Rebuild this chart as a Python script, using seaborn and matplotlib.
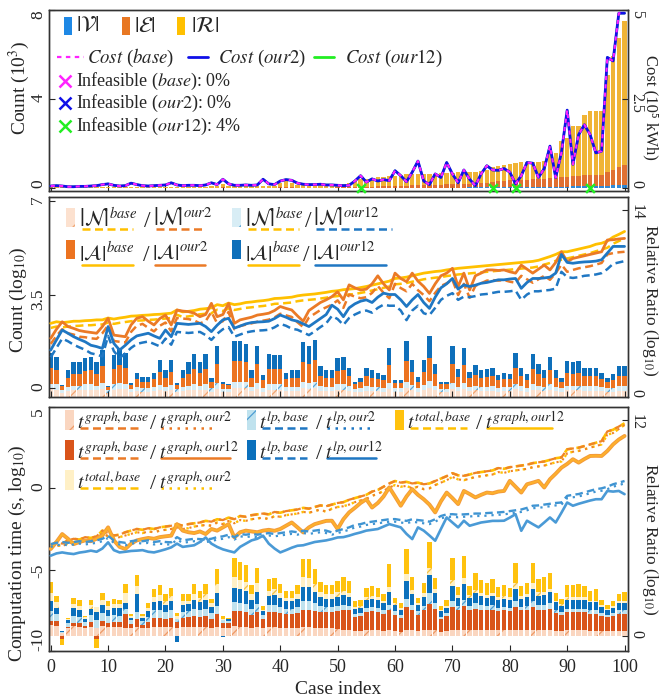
import numpy as np
import matplotlib
matplotlib.use("Agg")
import matplotlib.pyplot as plt
import seaborn as sns
from matplotlib.patches import Rectangle
from matplotlib.lines import Line2D

# ============================================
# Data
# ============================================
case_index = np.arange(101)

# --- panel 1: graph sizes (10^3) and cost (10^5 kWh)
count_V = [.002, .002, .001, .001, .002, .002, .002, .002, .001, .002,
           .002, .002, .002, .003, .002, .002, .003, .002, .003, .003,
           .003, .003, .003, .003, .003, .003, .004, .003, .004, .004,
           .008, .004, .004, .004, .005, .004, .005, .005, .005, .005,
           .01, .012, .01, .006, .006, .006, .006, .006, .007, .007,
           .008, .009, .01, .012, .015, .015, .016, .018, .018, .019,
           .02, .021, .022, .022, .022, .023, .023, .024, .025, .026,
           .026, .027, .027, .028, .028, .03, .032, .035, .037, .04,
           .042, .044, .045, .045, .046, .047, .048, .055, .056, .065,
           .07, .08, .08, .09, .095, .095, .095, .11, .12, .13, .14]
count_E = [.005, .005, .004, .004, .005, .005, .006, .005, .004, .006,
           .006, .005, .006, .007, .006, .006, .007, .006, .007, .007,
           .007, .008, .007, .008, .008, .008, .009, .008, .009, .01,
           .02, .01, .01, .01, .011, .01, .011, .012, .012, .012,
           .025, .03, .025, .014, .014, .015, .015, .016, .017, .018,
           .02, .022, .026, .033, .045, .045, .046, .06, .06, .065,
           .07, .08, .09, .1, .1, .11, .11, .12, .13, .14,
           .14, .15, .15, .16, .16, .18, .2, .25, .27, .29,
           .3, .32, .33, .34, .35, .36, .37, .4, .41, .42,
           .43, .45, .46, .48, .5, .5, .5, .62, .7, .8, .88]
count_R = [.033, .033, .025, .025, .033, .033, .042, .033, .025, .042,
           .042, .033, .042, .05, .042, .042, .05, .042, .05, .05,
           .05, .059, .05, .059, .059, .059, .067, .059, .067, .076,
           .17, .076, .076, .076, .084, .076, .084, .093, .093, .093,
           .21, .26, .21, .11, .11, .12, .12, .13, .14, .15,
           .15, .17, .2, .26, .35, .35, .36, .44, .44, .45,
           .46, .5, .52, .51, .51, .51, .51, .51, .53, .53,
           .53, .53, .53, .53, .53, .54, .57, .65, .67, .7,
           .74, .76, .78, .77, .76, .76, .78, 1.14, 1.13, 1.63,
           1.76, 2.24, 2.26, 2.72, 2.85, 2.86, 2.86, 4.33, 5.12, 5.83, 6.47]
# the three cost curves coincide in the picture
cost_base = [.06, .07, .06, .04, .04, .05, .05, .06, .07, .1,
             .12, .08, .06, .07, .14, .1, .07, .06, .07, .08,
             .09, .15, .09, .07, .08, .08, .07, .09, .15, .1,
             .25, .12, .08, .08, .09, .08, .09, .25, .12, .1,
             .2, .24, .22, .14, .11, .1, .1, .11, .09, .09,
             .08, .07, .08, .2, .35, .17, .26, .2, .24, .21,
             .49, .35, .18, .45, .76, .2, .1, .4, .3, .72,
             .4, .15, .51, .25, .07, .4, .63, .51, .5, .55,
             .45, .12, .35, .72, .7, .3, .55, 1.18, .3, 1.0,
             2.19, .67, 1.5, 1.78, 1.5, .99, 1.04, 3.67, 3.57, 4.91, 4.91]
cost_our2 = cost_base
cost_our12 = cost_base
infeasible_our12 = [54, 77, 81, 94]

# --- panel 2: node / arc counts (log10) and ratios
N_base = [2.25, 2.3, 2.27, 2.3, 2.32, 2.33, 2.35, 2.35, 2.37, 2.38,
          2.45, 2.4, 2.44, 2.47, 2.5, 2.52, 2.53, 2.55, 2.56, 2.58,
          2.6, 2.62, 2.74, 2.66, 2.68, 2.72, 2.76, 2.78, 2.8, 2.93,
          2.88, 2.98, 2.92, 2.96, 3.0, 3.02, 3.05, 3.07, 3.1, 3.15,
          3.16, 3.18, 3.2, 3.25, 3.28, 3.3, 3.32, 3.35, 3.38, 3.42,
          3.44, 3.48, 3.5, 3.52, 3.56, 3.6, 3.65, 3.7, 3.75, 3.8,
          3.88, 3.9, 3.93, 3.98, 4.02, 4.07, 4.1, 4.13, 4.15, 4.19,
          4.22, 4.25, 4.27, 4.29, 4.31, 4.33, 4.35, 4.37, 4.39, 4.41,
          4.43, 4.45, 4.47, 4.49, 4.51, 4.55, 4.62, 4.68, 4.76, 4.8,
          4.85, 4.9, 4.95, 5.0, 5.05, 5.12, 5.18, 5.25, 5.4, 5.5, 5.6]
A_base = [2.42, 2.48, 2.45, 2.47, 2.5, 2.5, 2.52, 2.53, 2.55, 2.55,
          2.62, 2.58, 2.62, 2.65, 2.69, 2.7, 2.72, 2.73, 2.75, 2.76,
          2.78, 2.8, 2.92, 2.85, 2.87, 2.9, 2.95, 2.97, 3.0, 3.12,
          3.08, 3.18, 3.12, 3.15, 3.2, 3.22, 3.25, 3.27, 3.3, 3.35,
          3.36, 3.38, 3.4, 3.45, 3.48, 3.5, 3.52, 3.55, 3.58, 3.62,
          3.64, 3.68, 3.7, 3.72, 3.76, 3.8, 3.85, 3.9, 3.95, 4.0,
          4.1, 4.12, 4.15, 4.2, 4.25, 4.3, 4.33, 4.36, 4.38, 4.42,
          4.45, 4.48, 4.5, 4.52, 4.54, 4.56, 4.58, 4.6, 4.62, 4.64,
          4.66, 4.68, 4.7, 4.72, 4.74, 4.78, 4.85, 4.92, 5.0, 5.1,
          5.1, 5.15, 5.2, 5.25, 5.3, 5.38, 5.42, 5.5, 5.65, 5.75, 5.86]
N_our2 = [1.65, 1.95, 2.2, 2.05, 2.0, 1.92, 1.9, 1.86, 1.84, 2.05,
          2.35, 1.76, 1.73, 1.7, 2.1, 2.33, 2.4, 2.25, 2.12, 2.33,
          2.45, 2.12, 2.62, 2.6, 2.58, 2.53, 2.42, 2.5, 2.85, 2.42,
          2.5, 2.85, 2.2, 2.32, 2.37, 2.42, 2.48, 2.52, 2.56, 2.64,
          2.78, 2.72, 2.66, 2.46, 2.28, 2.64, 2.78, 2.92, 3.02, 3.12,
          3.28, 3.0, 3.5, 3.42, 3.36, 3.4, 3.56, 3.82, 3.56, 3.36,
          3.9, 3.74, 3.62, 3.9, 3.66, 3.48, 3.25, 3.56, 3.82, 3.92,
          4.05, 3.48, 3.9, 3.38, 3.82, 3.92, 4.02, 4.04, 4.02, 4.04,
          3.98, 3.94, 4.2, 4.07, 3.94, 4.07, 4.2, 4.05, 4.3, 4.62,
          4.35, 4.42, 4.48, 4.52, 4.56, 4.62, 4.68, 5.0, 5.05, 5.08, 5.1]
A_our2 = [1.86, 2.2, 2.48, 2.3, 2.23, 2.15, 2.11, 2.08, 2.05, 2.3,
          2.61, 1.98, 1.95, 1.92, 2.36, 2.61, 2.67, 2.5, 2.36, 2.6,
          2.73, 2.36, 2.92, 2.88, 2.86, 2.8, 2.67, 2.75, 3.17, 2.67,
          2.75, 3.17, 2.42, 2.55, 2.6, 2.65, 2.73, 2.76, 2.8, 2.9,
          3.05, 2.98, 2.92, 2.7, 2.5, 2.9, 3.05, 3.2, 3.3, 3.42,
          3.6, 3.3, 3.86, 3.75, 3.67, 3.7, 3.9, 4.2, 3.9, 3.67,
          4.3, 4.1, 3.98, 4.3, 4.0, 3.8, 3.54, 3.9, 4.2, 4.3,
          4.48, 3.8, 4.3, 3.67, 4.2, 4.3, 4.42, 4.42, 4.4, 4.42,
          4.35, 4.3, 4.6, 4.45, 4.3, 4.45, 4.6, 4.42, 4.7, 5.1,
          4.73, 4.85, 4.9, 4.95, 5.0, 5.05, 5.1, 5.54, 5.55, 5.58, 5.6]
N_our12 = [1.15, 1.5, 1.85, 1.75, 1.62, 1.52, 1.43, 1.3, 1.25, 1.18,
           1.95, 1.38, 1.12, 1.3, 1.5, 1.65, 1.7, 1.74, 1.65, 1.56,
           1.85, 1.62, 2.1, 2.08, 2.06, 2.08, 2.1, 1.98, 1.8, 2.03,
           2.2, 2.28, 1.92, 2.0, 2.08, 2.12, 2.15, 2.16, 2.18, 2.27,
           2.4, 2.33, 2.22, 2.18, 2.08, 1.98, 2.12, 2.28, 2.42, 2.7,
           2.58, 2.36, 2.62, 2.75, 2.85, 2.9, 2.82, 3.0, 3.12, 3.08,
           3.08, 2.9, 2.54, 2.9, 3.08, 2.8, 2.73, 3.0, 3.3, 3.45,
           3.55, 3.3, 3.42, 3.4, 3.44, 3.5, 3.52, 3.56, 3.6, 3.6,
           3.62, 3.65, 3.3, 3.5, 3.62, 3.62, 3.65, 3.67, 3.72, 4.35,
           4.15, 4.12, 4.15, 4.2, 4.22, 4.25, 4.3, 4.45, 4.65, 4.7, 4.75]
A_our12 = [1.42, 1.8, 2.17, 2.05, 1.92, 1.82, 1.73, 1.6, 1.55, 1.48,
           2.3, 1.67, 1.42, 1.6, 1.8, 1.95, 2.0, 2.05, 1.95, 1.86,
           2.17, 1.92, 2.42, 2.4, 2.38, 2.4, 2.42, 2.3, 2.11, 2.35,
           2.55, 2.61, 2.24, 2.32, 2.4, 2.45, 2.47, 2.48, 2.5, 2.6,
           2.73, 2.65, 2.55, 2.5, 2.4, 2.3, 2.45, 2.6, 2.75, 3.1,
           2.95, 2.67, 3.0, 3.15, 3.25, 3.3, 3.2, 3.4, 3.55, 3.5,
           3.5, 3.3, 3.05, 3.3, 3.5, 3.2, 2.98, 3.4, 3.75, 3.9,
           4.1, 3.7, 3.86, 3.8, 3.85, 3.92, 3.95, 4.0, 4.05, 4.05,
           4.08, 4.1, 3.73, 3.95, 4.1, 4.1, 4.12, 4.15, 4.3, 5.0,
           4.7, 4.67, 4.7, 4.72, 4.73, 4.75, 4.8, 5.05, 5.3, 5.3, 5.3]

ratio_N2 = [.6, .55, .3, .45, .5, .5, .55, .55, .5, .6,
            .3, .55, .6, .6, .35, .45, .4, .4, .45, .5,
            .45, .5, .35, .45, .5, .55, .5, .55, .4, .6,
            .35, .35, .65, .65, .65, .45, .6, .4, .55, .55,
            .55, .45, .45, .45, .65, .6, .65, .45, .45, .45,
            .55, .55, .45, .35, .4, .45, .45, .45, .4, .6,
            .4, .4, .65, .5, .4, .5, .7, .5, .35, .35,
            .6, .45, .6, .45, .5, .45, .45, .45, .4, .45,
            .45, .6, .45, .4, .55, .5, .45, .55, .45, .4,
            .5, .5, .5, .45, .45, .45, .45, .4, .4, .45, .45]
ratio_N12 = [.4, .4, .2, .3, .35, .35, .4, .4, .35, .45,
             .2, .4, .45, .4, .25, .3, .3, .3, .3, .4,
             .3, .4, .25, .3, .35, .4, .35, .4, .25, .45,
             .25, .25, .5, .5, .45, .3, .45, .3, .4, .4,
             .4, .3, .3, .3, .5, .45, .5, .35, .3, .3,
             .4, .4, .35, .25, .25, .35, .3, .3, .3, .45,
             .25, .25, .5, .4, .3, .4, .5, .35, .25, .25,
             .45, .3, .45, .3, .35, .3, .3, .35, .3, .3,
             .3, .4, .35, .3, .4, .35, .3, .4, .3, .25,
             .35, .35, .35, .35, .35, .35, .3, .25, .3, .35, .35]
ratio_A2 = [1.2, 1.05, .3, .7, .9, .9, 1.0, 1.05, .9, 1.25,
            .25, 1.15, 1.35, 1.2, .3, .6, .45, .45, .6, 1.0,
            .7, 1.0, .3, .7, .9, 1.15, .95, 1.15, .45, 1.4,
            .35, .3, 1.55, 1.55, 1.5, .7, 1.4, .55, 1.15, 1.15,
            1.15, .6, .7, .7, 1.5, 1.4, 1.6, .8, .7, .7,
            1.0, 1.05, .75, .35, .45, .75, .7, .6, .55, 1.35,
            .4, .4, 1.55, 1.0, .45, 1.0, 1.7, .85, .35, .35,
            1.4, .75, 1.35, .65, .8, .7, .75, .75, .55, .6,
            .6, 1.2, .75, .6, 1.15, .85, .7, 1.05, .7, .45,
            .95, .9, .95, .75, .75, .75, .6, .45, .6, .8, .8]
ratio_A12 = [1.1, 1.0, .1, .55, .85, .85, .95, 1.0, .85, 1.2,
             .1, 1.05, 1.25, 1.1, .15, .45, .35, .35, .45, .9,
             .55, .9, .15, .55, .85, 1.1, .85, 1.1, .3, 1.35,
             .2, .1, 1.5, 1.5, 1.4, .55, 1.35, .4, 1.1, 1.05,
             1.05, .45, .55, .55, 1.45, 1.35, 1.55, .7, .55, .55,
             .95, 1.0, .65, .15, .3, .6, .55, .45, .4, 1.25,
             .25, .25, 1.5, .9, .35, .9, 1.7, .8, .2, .2,
             1.4, .6, 1.3, .5, .75, .55, .6, .6, .4, .45,
             .4, 1.1, .6, .4, 1.1, .8, .55, 1.0, .55, .3,
             .9, .85, .9, .65, .6, .6, .45, .3, .4, .7, .7]

# --- panel 3: computation times (s, log10) and ratios
t_graph_base = [-3.5, -3.3, -3.4, -3.2, -3.1, -3.15, -3.0, -3.05, -2.95, -2.6,
                -2.75, -2.9, -2.85, -2.7, -2.6, -2.5, -2.55, -2.45, -2.5, -2.4,
                -2.35, -2.3, -2.2, -2.3, -2.2, -2.15, -2.1, -2.0, -2.05, -1.9,
                -1.95, -1.8, -1.9, -1.7, -1.75, -1.65, -1.6, -1.55, -1.6, -1.45,
                -1.5, -1.4, -1.35, -1.3, -1.2, -1.25, -1.15, -1.05, -1.1, -1.0,
                -0.9, -0.85, -0.7, -0.6, -0.5, -0.4, -0.2, -0.1, 0.1, 0.3,
                0.45, 0.35, 0.4, 0.3, 0.35, 0.25, 0.3, 0.45, 0.6, 0.75,
                0.93, 0.8, 0.77, 0.85, 0.95, 1.0, 1.05, 1.1, 1.25, 1.2,
                1.3, 1.35, 1.4, 1.45, 1.55, 1.6, 1.65, 1.75, 1.85, 1.9,
                2.4, 2.45, 2.5, 2.6, 2.7, 2.8, 2.9, 3.5, 3.6, 3.8, 4.0]
t_graph_our2 = [-3.6, -3.5, -3.55, -3.4, -3.3, -3.35, -3.2, -3.25, -3.1, -2.75,
                -2.95, -3.1, -3.0, -2.9, -2.8, -2.7, -2.75, -2.65, -2.7, -2.6,
                -2.55, -2.5, -2.4, -2.5, -2.45, -2.35, -2.3, -2.25, -2.3, -2.1,
                -2.2, -2.0, -2.15, -1.95, -2.0, -1.9, -1.85, -1.8, -1.9, -1.7,
                -1.75, -1.65, -1.6, -1.55, -1.45, -1.5, -1.4, -1.3, -1.45, -1.25,
                -1.15, -1.1, -1.0, -0.85, -0.75, -0.65, -0.45, -0.35, -0.15, 0.05,
                0.2, 0.1, 0.15, 0.0, 0.1, -0.05, 0.0, 0.2, 0.35, 0.5,
                0.7, 0.55, 0.5, 0.6, 0.7, 0.75, 0.8, 0.85, 1.0, 0.95,
                1.05, 1.1, 1.15, 1.2, 1.3, 1.35, 1.4, 1.5, 1.6, 1.65,
                2.15, 2.25, 2.3, 2.4, 2.5, 2.6, 2.7, 3.3, 3.4, 3.65, 3.9]
t_graph_our12 = [-3.73, -3.3, -2.81, -3.1, -3.43, -3.3, -3.2, -3.25, -3.1, -2.9,
                 -2.4, -3.2, -3.6, -3.73, -3.4, -3.2, -3.12, -3.05, -3.1, -3.0,
                 -2.95, -2.91, -2.2, -2.6, -2.7, -2.75, -2.65, -2.81, -2.5, -2.6,
                 -2.4, -2.2, -3.02, -2.7, -2.6, -2.65, -2.7, -2.6, -2.55, -2.61,
                 -2.5, -2.3, -2.1, -2.4, -2.71, -2.4, -2.2, -2.1, -2.0, -1.99,
                 -2.5, -1.9, -1.48, -1.2, -0.9, -0.67, -1.18, -0.9, -0.5, 0.06,
                 -0.5, -1.07, -0.5, -0.05, -0.4, -0.67, -1.0, -1.48, -0.8, -0.26,
                 -0.6, -0.97, -0.16, -0.35, -0.56, -0.4, -0.26, -0.3, -0.2, -0.16,
                 0.46, 0.1, -0.26, 0.25, 0.35, 0.46, 0.05, 0.56, 0.9, 1.27,
                 1.5, 1.79, 1.58, 1.8, 1.99, 2.0, 1.99, 2.3, 2.7, 3.0, 3.22]
t_lp_base = [-3.43, -3.35, -3.3, -3.35, -3.3, -3.25, -3.3, -3.25, -3.2, -3.1,
             -2.92, -3.2, -3.3, -3.35, -3.25, -3.2, -3.25, -3.2, -3.3, -3.25,
             -3.3, -3.32, -3.0, -3.2, -3.15, -3.1, -3.12, -3.15, -3.1, -3.0,
             -2.95, -2.85, -3.0, -2.81, -2.85, -2.8, -2.85, -2.8, -2.75, -2.81,
             -2.75, -2.7, -2.65, -2.7, -2.61, -2.65, -2.6, -2.55, -2.6, -2.71,
             -2.6, -2.5, -2.4, -2.25, -2.2, -2.1, -2.05, -2.0, -1.95, -1.9,
             -1.89, -1.95, -2.0, -1.9, -1.95, -1.99, -2.05, -1.9, -1.7, -1.6,
             -1.59, -1.62, -1.6, -1.58, -1.55, -1.55, -1.52, -1.5, -1.48, -1.45,
             -1.4, -1.35, -1.3, -1.2, -1.07, -1.05, -1.0, -0.95, -0.9, -0.87,
             -0.46, -0.4, -0.35, -0.25, -0.15, -0.05, 0.0, 0.1, 0.25, 0.35, 0.45]
t_lp_our2 = [-3.6, -3.5, -3.45, -3.5, -3.45, -3.4, -3.45, -3.4, -3.35, -3.25,
             -3.05, -3.35, -3.45, -3.5, -3.4, -3.35, -3.4, -3.35, -3.45, -3.4,
             -3.45, -3.45, -3.15, -3.35, -3.3, -3.25, -3.25, -3.3, -3.25, -3.15,
             -3.1, -3.0, -3.15, -2.95, -3.0, -2.95, -3.0, -2.95, -2.9, -2.95,
             -2.9, -2.85, -2.8, -2.85, -2.75, -2.8, -2.75, -2.7, -2.75, -2.85,
             -2.75, -2.65, -2.55, -2.4, -2.35, -2.25, -2.2, -2.15, -2.1, -2.05,
             -2.05, -2.1, -2.15, -2.05, -2.1, -2.15, -2.2, -2.05, -1.85, -1.75,
             -1.75, -1.78, -1.75, -1.73, -1.7, -1.7, -1.68, -1.65, -1.63, -1.6,
             -1.55, -1.5, -1.45, -1.35, -1.22, -1.2, -1.15, -1.1, -1.05, -1.0,
             -0.6, -0.55, -0.5, -0.4, -0.3, -0.2, -0.15, -0.05, 0.1, 0.2, 0.3]
t_lp_our12 = [-4.14, -4.0, -3.94, -4.0, -4.04, -3.95, -3.9, -3.83, -3.9, -3.7,
              -3.32, -3.8, -3.94, -3.9, -3.85, -3.83, -3.8, -3.9, -3.94, -3.85,
              -3.75, -3.63, -3.4, -3.6, -3.55, -3.5, -3.3, -3.02, -3.4, -3.6,
              -3.75, -3.85, -3.94, -3.6, -3.4, -3.2, -3.1, -2.91, -3.4, -3.7,
              -3.94, -3.8, -3.65, -3.53, -3.5, -3.4, -3.3, -3.25, -3.2, -3.12,
              -3.02, -3.0, -2.91, -2.8, -2.71, -2.6, -2.55, -2.5, -2.35, -2.2,
              -2.3, -2.4, -2.8, -3.12, -2.4, -2.6, -2.9, -3.22, -2.5, -1.79,
              -2.1, -2.4, -1.99, -2.3, -2.2, -2.1, -2.05, -2.0, -2.0, -1.99,
              -1.8, -1.59, -2.61, -1.99, -2.2, -2.4, -2.1, -1.79, -2.1, -1.5,
              -0.87, -1.07, -0.95, -0.85, -0.75, -0.67, -0.67, -0.16, -0.2, -0.16, -0.36]
# total time is dominated by graph time, the curves coincide
t_total_base = t_graph_base
t_total_our2 = t_graph_our2
t_total_our12 = t_graph_our12

ratio_graph2 = [.6, .55, .15, .45, .55, .5, .45, .5, .45, .55,
                .5, .5, .5, .45, .45, .5, .4, .45, .5, .5,
                .5, .5, .45, .5, .5, .5, .5, .5, .45, .5,
                .4, .4, .55, .5, .5, .45, .5, .45, .5, .5,
                .45, .45, .45, .45, .5, .5, .45, .4, .4, .4,
                .35, .3, .3, .25, .25, .3, .3, .3, .25, .3,
                .25, .2, .3, .3, .25, .3, .3, .3, .2, .25,
                .3, .3, .3, .3, .3, .3, .3, .3, .3, .3,
                .3, .3, .3, .3, .3, .3, .3, .3, .25, .25,
                .3, .3, .3, .3, .25, .25, .25, .25, .25, .25, .25]
ratio_graph12 = [.2, .25, -.2, .05, .15, .2, .1, .25, -.2, .25,
                 .2, .25, .25, .75, .2, .4, .2, .3, .5, .5,
                 .45, .5, .3, .5, .55, .6, .55, .6, .5, .7,
                 .3, .3, .8, .85, .8, .7, .8, .45, .8, .8,
                 .8, .75, .75, .8, .9, .9, .9, .9, .9, .9,
                 1.0, 1.1, 1.1, .8, .85, 1.0, 1.05, 1.0, .95, 1.1,
                 .9, .8, 1.3, 1.1, .9, 1.1, 1.45, 1.2, .75, .85,
                 1.3, 1.1, 1.35, 1.1, 1.2, 1.15, 1.1, 1.15, 1.05, 1.1,
                 1.05, 1.3, 1.1, 1.1, 1.3, 1.15, 1.15, 1.2, 1.0, .9,
                 1.0, 1.0, 1.0, 1.0, .95, .95, .85, .8, .85, .95, .95]
ratio_lp2 = [.55, .4, .05, .2, .4, .35, .2, .4, .4, .45,
             .4, .4, .35, .3, .2, .4, .2, .3, .4, .45,
             .35, .4, .2, .3, .3, .4, .35, .4, .3, .45,
             .15, .1, .5, .45, .45, .35, .45, .25, .4, .4,
             .35, .3, .3, .35, .5, .5, .45, .35, .3, .3,
             .3, .3, .25, .15, .15, .25, .25, .25, .2, .3,
             .2, .15, .45, .3, .2, .25, .6, .3, .1, .15,
             .35, .25, .35, .25, .3, .25, .25, .25, .2, .2,
             .2, .3, .2, .25, .3, .25, .25, .3, .2, .15,
             .2, .2, .2, .2, .2, .2, .15, .1, .15, .2, .2]
ratio_lp12 = [.55, .35, .04, .15, .45, .4, .2, .35, .45, .45,
              .35, .4, .45, .3, .15, 1.0, .2, .3, .45, .5,
              .4, .5, -.35, .4, .4, .5, .45, .5, .35, .7,
              -.05, .1, .8, .8, .75, .5, .7, .2, .5, .55,
              .5, .4, .4, .45, .8, .8, .65, .5, .45, .45,
              .5, .55, .5, .3, .3, .45, .45, .45, .4, .7,
              .35, .3, 1.0, .6, .35, .5, 1.0, .55, .3, .3,
              .8, .45, .85, .45, .55, .5, .45, .5, .45, .45,
              .45, .7, .45, .5, .7, .5, .55, .6, .4, .35,
              .5, .5, .5, .5, .45, .45, .35, .25, .3, .4, .4]
ratio_total2 = [.45, .3, 0, .05, .2, .2, .07, .2, .3, .3,
                .2, .2, .2, .55, .08, .45, .08, .2, .3, .3,
                .25, .3, .15, .25, .2, .3, .25, .3, .2, .5,
                .1, .05, .6, .5, .5, .3, .45, .1, .3, .35,
                .25, .2, .2, .25, .55, .5, .4, .3, .25, .25,
                .25, .25, .2, .1, .1, .15, .15, .15, .1, .3,
                .1, .1, .4, .25, .1, .2, .4, .25, .1, .1,
                .35, .15, .35, .15, .2, .15, .15, .15, .15, .15,
                .15, .3, .15, .15, .3, .2, .2, .2, .1, .1,
                .15, .15, .15, .15, .1, .1, .1, .08, .1, .1, .1]
ratio_total12 = [.63, .35, -.3, .09, .35, .35, .1, .3, -.5, .38,
                 .26, .3, .25, .5, .1, .6, .1, .24, .42, .54,
                 .34, .46, .17, .34, .34, .58, .37, .55, .21, .87,
                 .13, .04, 1.09, 1.0, .91, .5, .88, .19, .63, .62,
                 .5, .37, .37, .49, 1.03, 1.05, .84, .53, .49, .49,
                 .64, .78, .69, .32, .35, .51, .55, .51, .39, 1.27,
                 .3, .27, 1.39, .73, .3, .56, 1.43, .62, .19, .32,
                 1.24, .47, 1.23, .5, .91, .74, .66, .78, .57, .59,
                 .51, 1.16, .55, .61, 1.16, .77, .83, .86, .43, .3,
                 .64, .64, .7, .6, .52, .62, .27, .2, .26, .44, .5]

# ============================================
# Style
# ============================================
sns.set_style("ticks")
plt.rcParams["font.family"] = ["Liberation Serif", "DejaVu Serif"]
plt.rcParams["mathtext.fontset"] = "stix"
plt.rcParams["hatch.linewidth"] = 0.9
plt.rcParams["xtick.direction"] = "in"
plt.rcParams["ytick.direction"] = "in"

YEL, ORG, BLU = "#FFC000", "#EB7A26", "#1F77C3"
LORG, LBLU, LYEL = "#FCE1CF", "#D8EDF5", "#FFF0C6"
ORG3, BLU3, BLU3L = "#D9541A", "#0B70BC", "#BFE2EE"
DASH, DOT = (0, (3.2, 1.8)), (0, (1, 2.2))

W, H = 660, 698
fig = plt.figure(figsize=(W / 100, H / 100), dpi=100)
left, width = 49 / W, 579 / W
ax1 = fig.add_axes([left, 1 - 191 / H, width, 181 / H])
ax2 = fig.add_axes([left, 1 - 397 / H, width, 200 / H])
ax3 = fig.add_axes([left, 1 - 651 / H, width, 244 / H])
ax1r, ax2r, ax3r = ax1.twinx(), ax2.twinx(), ax3.twinx()


def stack_bars(ax, layers, width=0.76):
    pos = np.zeros(len(case_index))
    neg = np.zeros(len(case_index))
    for vals, color, hatch, hcolor, alpha in layers:
        v = np.asarray(vals, dtype=float)
        bottom = np.where(v >= 0, pos, neg)
        ax.bar(case_index, v, width=width, bottom=bottom, color=color, alpha=alpha,
               hatch=hatch, edgecolor=hcolor if hatch else color, linewidth=0)
        pos += np.where(v >= 0, v, 0)
        neg += np.where(v < 0, v, 0)


def line(ax, y, color, ls="-", lw=1.8, alpha=1.0, z=3):
    sns.lineplot(x=case_index, y=y, ax=ax, color=color, linestyle=ls, linewidth=lw,
                 alpha=alpha, estimator=None, errorbar=None, sort=False, zorder=z)


# =====================================
# Panel 1 : graph sizes + cost
# =====================================
stack_bars(ax1, [(count_V, "#1A7CD1", None, None, 0.9),
                 (count_E, "#DD601C", None, None, 0.9),
                 (count_R, "#F0B02A", None, None, 0.95)])
line(ax1r, cost_our12, "#22EE22", "-", 1.6)
line(ax1r, cost_our2, "#1010E8", "-", 2.0)
line(ax1r, cost_base, "#FF22FF", (0, (2, 2)), 1.5)
ax1r.scatter(infeasible_our12, [0] * len(infeasible_our12), marker="x", s=40,
             color="#22EE22", linewidths=1.8, zorder=5, clip_on=False)
ax1.set_ylim(-0.13, 8)
ax1r.set_ylim(-0.08, 5)
ax1.set_yticks([0, 4, 8], ["0", "4", "8"])
ax1r.set_yticks([0, 2.5, 5], ["0", "2.5", "5"])

# =====================================
# Panel 2 : counts + ratios
# =====================================
stack_bars(ax2r, [(ratio_N2, LORG, "/", "#F0A673", 1),
                  (ratio_N12, LBLU, "/", "#5BA6D6", 1),
                  (ratio_A2, "#EC7320", None, None, 1),
                  (ratio_A12, "#0E6FBA", None, None, 1)])
line(ax2, N_base, YEL, DASH, 1.8)
line(ax2, A_base, YEL, "-", 2.0)
line(ax2, N_our2, ORG, DASH, 1.8)
line(ax2, A_our2, ORG, "-", 2.0)
line(ax2, N_our12, BLU, DASH, 1.8)
line(ax2, A_our12, BLU, "-", 2.0)
ax2.set_ylim(-0.337, 7.15)
ax2r.set_ylim(0, 14.97)
ax2.set_yticks([0, 3.5, 7], ["0", "3.5", "7"])
ax2r.set_yticks([0, 14], ["0", "14"])

# =====================================
# Panel 3 : computation time + ratios
# =====================================
stack_bars(ax3r, [(ratio_graph2, "#FAD6C0", "/", "#EE9A66", 1),
                  (ratio_graph12, ORG3, None, None, 1),
                  (ratio_lp2, BLU3L, "/", "#4D9DD3", 1),
                  (ratio_lp12, BLU3, None, None, 1),
                  (ratio_total2, LYEL, "/", "#F5C242", 1),
                  (ratio_total12, "#FFC20E", None, None, 1)])
line(ax3, t_total_base, YEL, DASH, 1.9)
line(ax3, t_graph_base, "#EF8327", DASH, 1.6)
line(ax3, t_total_our2, YEL, DOT, 1.7)
line(ax3, t_graph_our2, "#EF8327", DOT, 1.5)
line(ax3, t_graph_our12, "#F39A3A", "-", 2.8)
line(ax3, t_total_our12, "#FFB32A", "-", 1.4, alpha=0.9)
line(ax3, t_lp_base, "#3F94D2", DASH, 1.7)
line(ax3, t_lp_our2, "#3F94D2", DOT, 1.6)
line(ax3, t_lp_our12, "#4A9AD6", "-", 1.9)
ax3.set_ylim(-10, 5)
ax3r.set_ylim(-0.85, 12.7)
ax3.set_yticks([-10, -5, 0, 5], ["-10", "-5", "0", "5"])
ax3r.set_yticks([0, 12], ["0", "12"])

# =====================================
# Axes cosmetics
# =====================================
for ax, axr in ((ax1, ax1r), (ax2, ax2r), (ax3, ax3r)):
    if ax is not ax1:
        ax.set_zorder(axr.get_zorder() + 1)
        ax.patch.set_visible(False)
    ax.set_xlim(-0.3, 100.6)
    ax.set_xticks(range(0, 101, 10))
    ax.tick_params(axis="x", length=4, width=0.8, labelsize=13, pad=6)
    ax.tick_params(axis="y", length=4, width=0.8, labelsize=12.5, pad=2, labelrotation=90)
    axr.tick_params(axis="y", length=4, width=0.8, labelsize=11.5, pad=0.5, labelrotation=-90)
    for a in (ax, axr):
        a.set_xlabel("")
        a.set_ylabel("")
        for s in a.spines.values():
            s.set_linewidth(1.0)
            s.set_color("#333333")
ax1.tick_params(axis="x", labelbottom=False)
ax2.tick_params(axis="x", labelbottom=False)


def inset_ends(ax, low=True, high=True):
    labs = ax.get_yticklabels()
    if low:
        labs[0].set_verticalalignment("bottom")
    if high:
        labs[-1].set_verticalalignment("top")


inset_ends(ax1)
inset_ends(ax1r)
inset_ends(ax2r, high=False)
inset_ends(ax3)

lab_kw = dict(fontsize=14, va="center", ha="center")
rlab_kw = dict(fontsize=12.5, va="center", ha="center", rotation=270)
ax1.set_ylabel("Count (10$^3$)", **lab_kw)
ax1.yaxis.set_label_coords(-0.052, 0.57)
ax1r.set_ylabel("Cost (10\u2075 kWh)", fontsize=12, va="center", ha="center", rotation=270)
ax1r.yaxis.set_label_coords(1.0395, 0.46)
ax2.set_ylabel("Count (log$_{10}$)", **lab_kw)
ax2.yaxis.set_label_coords(-0.052, 0.485)
ax2r.set_ylabel("Relative Ratio (log$_{10}$)", **rlab_kw)
ax2r.yaxis.set_label_coords(1.038, 0.485)
ax3.set_ylabel("Computation time (s, log$_{10}$)", **lab_kw)
ax3.yaxis.set_label_coords(-0.054, 0.40)
ax3r.set_ylabel("Relative Ratio (log$_{10}$)", **rlab_kw)
ax3r.yaxis.set_label_coords(1.038, 0.46)
ax3.set_xlabel("Case index", fontsize=14, labelpad=3)


# =====================================
# Hand-made legends (figure pixel coordinates)
# =====================================
def fpatch(x0, y0, x1, y1, color, hatch=None, hcolor=None):
    fig.add_artist(Rectangle((x0 / W, 1 - y1 / H), (x1 - x0) / W, (y1 - y0) / H,
                             transform=fig.transFigure, facecolor=color, hatch=hatch,
                             edgecolor=hcolor if hatch else color, linewidth=0))


def fline(x0, x1, y, color, ls="-", lw=1.8):
    fig.add_artist(Line2D([x0 / W, x1 / W], [1 - y / H, 1 - y / H], transform=fig.transFigure,
                          color=color, linestyle=ls, linewidth=lw))


def ftext(x, y, s, size, va="baseline"):
    fig.text(x / W, 1 - y / H, s, fontsize=size, ha="left", va=va)


# panel 1
fpatch(64, 17, 72, 35, "#1E88E5")
ftext(76, 27, r"$|\mathcal{V}|$", 16, "center")
fpatch(122, 17, 130, 35, "#E87722")
ftext(134, 27, r"$|\mathcal{E}|$", 16, "center")
fpatch(177, 17, 185, 35, "#FFC000")
ftext(191, 27, r"$|\mathcal{R}|$", 16, "center")
fline(57, 84, 57, "#FF22FF", (0, (2, 2)), 1.6)
ftext(87, 58, r"$\it{Cost}$ ($\it{base}$)", 13.5, "center")
fline(188, 208, 57, "#1010E8", "-", 2.0)
ftext(218, 58, r"$\it{Cost}$ ($\it{our2}$)", 13.5, "center")
fline(314, 334, 57, "#22EE22", "-", 2.0)
ftext(345, 58, r"$\it{Cost}$ ($\it{our12}$)", 13.5, "center")
for yy, col, name, pct in ((81, "#FF22FF", "base", "0%"), (103, "#1010E8", "our2", "0%"),
                           (126, "#22EE22", "our12", "4%")):
    fig.add_artist(Line2D([65 / W], [1 - yy / H], transform=fig.transFigure, marker="x",
                          markersize=8, markeredgewidth=1.8, color=col, linestyle="none"))
    ftext(76, yy, "Infeasible ($\\it{%s}$): %s" % (name, pct), 13, "center")

# panel 2
for (px, phatch, pcol, hcol, num_ls, slash_x, den_x, den_col, den_end, den_lab, sym, yb, yu, py) in (
        (66, "/", LORG, "#F0A673", DASH, 144, 153, ORG, 205, "our2", "N", 225, 229, 208),
        (232, "/", LBLU, "#5BA6D6", DASH, 305, 313, BLU, 392, "our12", "N", 225, 229, 208),
        (66, None, "#EC7320", None, "-", 143, 152, ORG, 205, "our2", "A", 259, 265, 240),
        (232, None, "#0E6FBA", None, "-", 303, 312, BLU, 386, "our12", "A", 259, 265, 240)):
    den_ls = num_ls
    fpatch(px, py, px + 9, py + 19, pcol, phatch, hcol)
    ftext(px + 13, yb, r"$\left|\mathcal{%s}\right|^{base}$" % sym, 15)
    fline(px + 16, px + 67, yu, YEL, num_ls, 1.8)
    ftext(slash_x, yb + 2, "/", 17)
    ftext(den_x, yb, r"$\left|\mathcal{%s}\right|^{%s}$" % (sym, den_lab), 15)
    fline(den_x + 3, den_end, yu, den_col, den_ls, 1.8)

# panel 3
for (px, py, pcol, phatch, hcol, num, num_col, num_ls, slash_x, den, den_col, den_ls, den_end) in (
        (65, 410, "#FAD6C0", "/", "#EE9A66", "graph,base", ORG, DASH, 150, "graph,our2", ORG, DOT, 217),
        (247, 410, BLU3L, "/", "#4D9DD3", "lp,base", BLU, DASH, 316, "lp,our2", BLU, DOT, 370),
        (395, 410, "#FFC20E", None, None, "total,base", YEL, DASH, 476, "graph,our12", YEL, "-", 552),
        (65, 440, ORG3, None, None, "graph,base", ORG, DASH, 150, "graph,our12", ORG, "-", 230),
        (247, 440, BLU3, None, None, "lp,base", BLU, DASH, 316, "lp,our12", BLU, "-", 376),
        (65, 470, LYEL, "/", "#F5C242", "total,base", YEL, DASH, 150, "graph,our2", YEL, DOT, 217)):
    fpatch(px, py, px + 9, py + 20, pcol, phatch, hcol)
    ftext(px + 12, py + 19, r"$t^{%s}$" % num, 14)
    fline(px + 15, slash_x - 9, py + 18, num_col, num_ls, 1.8)
    ftext(slash_x, py + 19, "/", 16)
    ftext(slash_x + 9, py + 19, r"$t^{%s}$" % den, 14)
    fline(slash_x + 11, den_end, py + 18, den_col, den_ls, 1.8)

fig.savefig("out.png", dpi=100, facecolor="white")
